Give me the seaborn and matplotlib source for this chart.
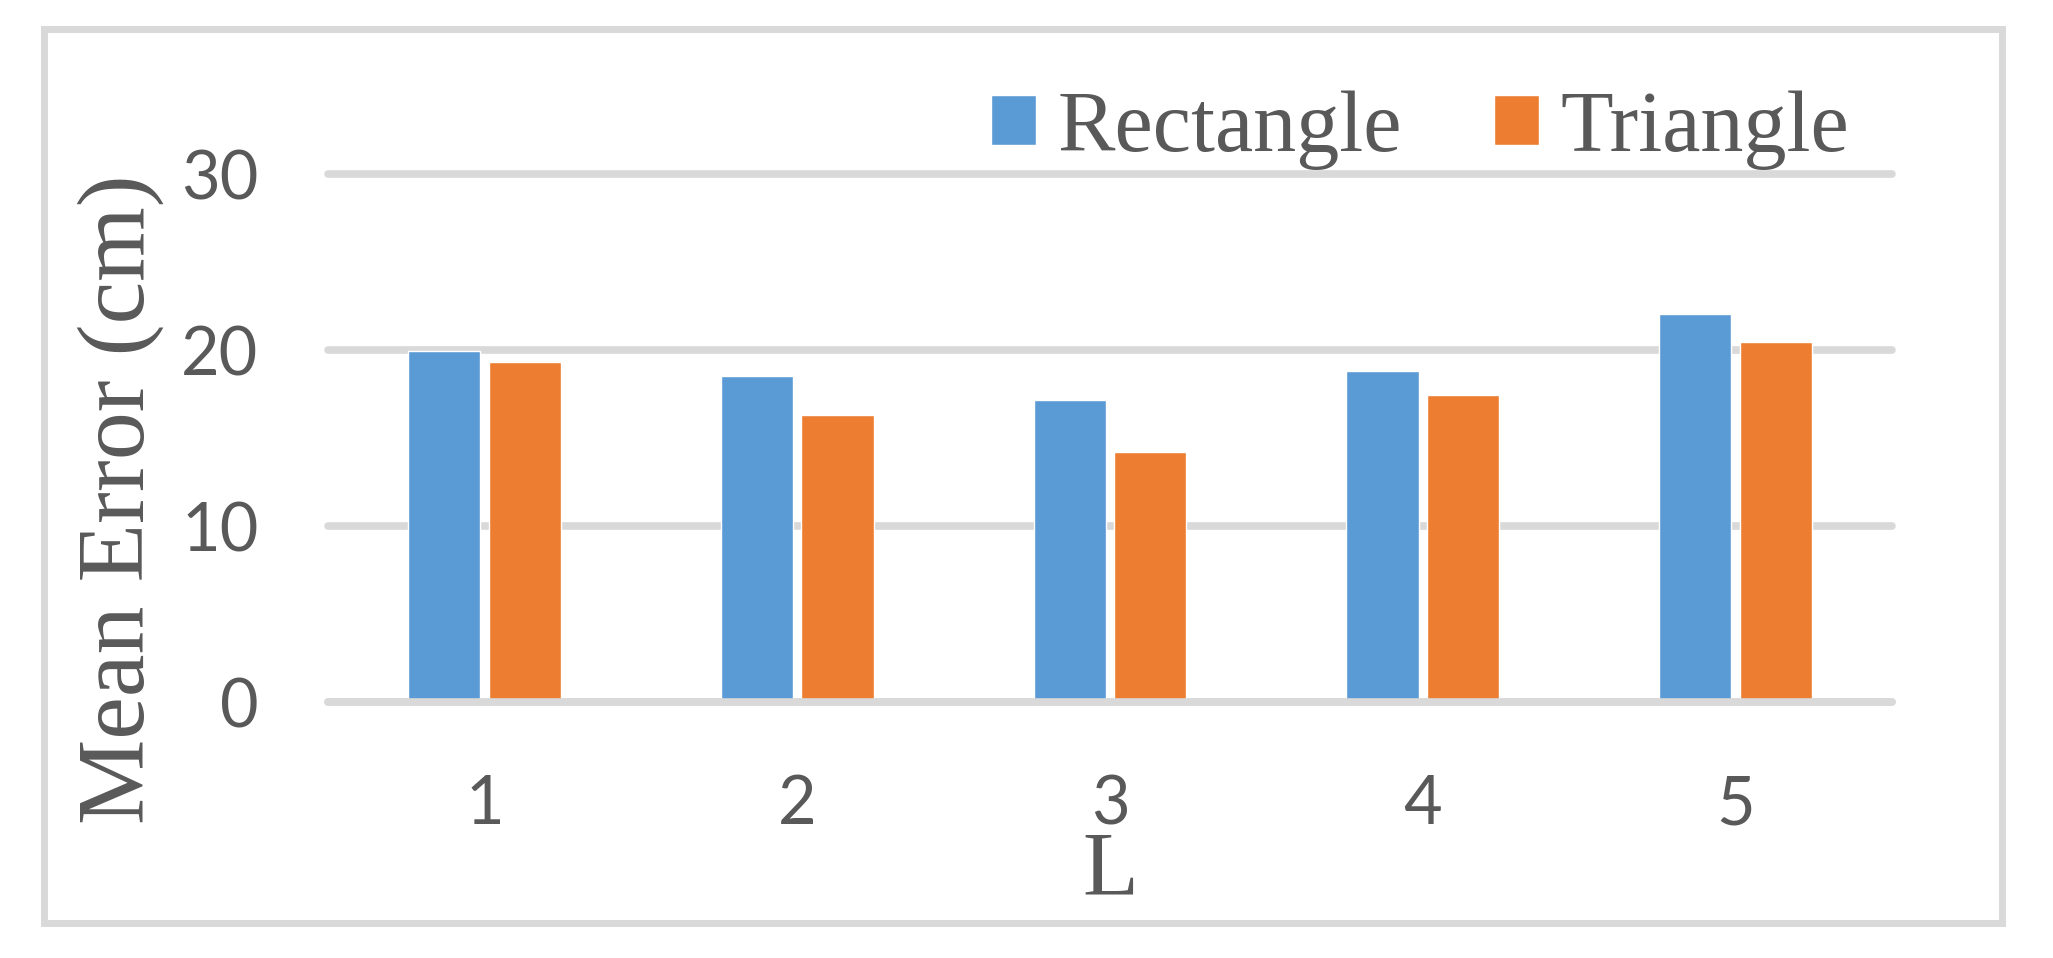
"""Mean error by L for rectangle vs triangle layouts (Excel-style grouped bars)."""

import matplotlib
matplotlib.use("Agg")
import matplotlib.pyplot as plt
from matplotlib.patches import Rectangle
import pandas as pd
import seaborn as sns

# ---------------------------------------------------------------------------
# data
# ---------------------------------------------------------------------------
L_VALUES = ["1", "2", "3", "4", "5"]
RECTANGLE = [19.95, 18.55, 17.15, 18.8, 22.05]
TRIANGLE = [19.3, 16.3, 14.2, 17.45, 20.45]
SERIES = ["Rectangle", "Triangle"]
Y_TICKS = [0, 10, 20, 30]

BLUE = "#5B9BD5"
ORANGE = "#ED7D31"
GRID = "#D9D9D9"
TEXT = "#595959"

W, H, DPI = 2053, 958, 100

df = pd.DataFrame({
    "L": L_VALUES * 2,
    "value": RECTANGLE + TRIANGLE,
    "shape": [SERIES[0]] * len(L_VALUES) + [SERIES[1]] * len(L_VALUES),
})

sns.set_style("white")
plt.rcParams["font.family"] = ["Lato", "DejaVu Sans"]

fig = plt.figure(figsize=(W / DPI, H / DPI), dpi=DPI)
ax = fig.add_axes([328 / W, 1 - 702 / H, (1892 - 328) / W, (702 - 174) / H])

sns.barplot(
    data=df, x="L", y="value", hue="shape",
    palette={SERIES[0]: BLUE, SERIES[1]: ORANGE},
    order=L_VALUES, hue_order=SERIES,
    width=0.515, gap=0.105, saturation=1, ax=ax,
)

ax.set_ylim(0, 30)
ax.set_yticks(Y_TICKS)
ax.set_axisbelow(True)
ax.yaxis.grid(True, color=GRID, linewidth=5.5)
ax.xaxis.grid(False)
for gl in ax.get_ygridlines():
    gl.set_clip_on(False)
ax.axhline(0, color=GRID, linewidth=5.5, zorder=3, clip_on=False)
for s in ax.spines.values():
    s.set_visible(False)

ax.tick_params(axis="both", length=0, labelsize=48, labelcolor=TEXT)
ax.tick_params(axis="y", pad=50)
ax.tick_params(axis="x", pad=52)

serif = "Liberation Serif"
ax.set_ylabel("Mean Error (cm)", fontsize=69, color=TEXT, family=serif)
ax.yaxis.set_label_coords(-0.105, 0.385)
ax.set_xlabel("L", fontsize=66, color=TEXT, family=serif)
ax.xaxis.set_label_coords(0.5, -0.245)

handles, labels = ax.get_legend_handles_labels()
ax.legend(
    handles, labels, ncol=2, frameon=False, loc="center",
    bbox_to_anchor=(1420 / W, 1 - 130 / H), bbox_transform=fig.transFigure,
    prop={"family": serif, "size": 62}, labelcolor=TEXT,
    handlelength=0.52, handleheight=0.52, handletextpad=0.25,
    columnspacing=1.07, borderpad=0,
)

# light grey chart-area border
fig.patches.append(Rectangle(
    (43.5 / W, 1 - 923 / H), (2002 - 43.5) / W, (923 - 29) / H,
    transform=fig.transFigure, fill=False, edgecolor=GRID, lw=5,
))

fig.savefig("out.png", dpi=DPI, facecolor="white")
